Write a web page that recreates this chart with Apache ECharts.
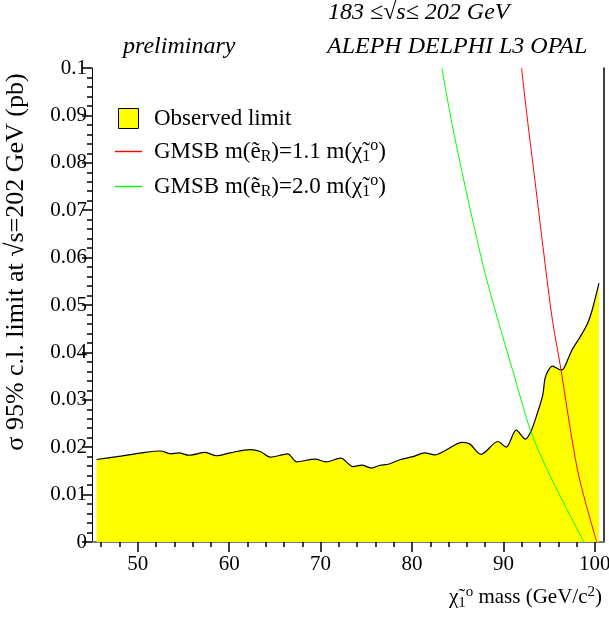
<!DOCTYPE html>
<html>
<head>
<meta charset="utf-8">
<script src="https://cdn.jsdelivr.net/npm/echarts@6/dist/echarts.min.js"></script>
<style>
  html, body { margin: 0; padding: 0; background: #fff; }
  #chart { width: 609px; height: 621px; }
</style>
</head>
<body>
<div id="chart"></div>
<script>
// observed 95% c.l. limit (pb) vs neutralino mass (GeV/c^2)
const obsMass = [45.5, 47.75, 50.5, 52.5, 53.6, 54.5, 55.6, 57.4, 58.6, 60.1, 62.3, 63.4, 64.5, 66.4, 67.4, 69.4,
  70.6, 72.2, 73.55, 74.5, 75.55, 76.5, 77.4, 78.6, 80.1, 81.4, 82.5, 83.55, 85.5, 86.3, 87.55, 89.4, 90.3,
  91.4, 92.4, 93.0, 93.7, 94.3, 94.55, 94.85, 95.36, 96.3, 96.6, 97.5, 98.4, 99.2, 99.7, 100.45];
const obsLimit = [0.0174, 0.0180, 0.0188, 0.0192, 0.0186, 0.0188, 0.0183, 0.0189, 0.0182, 0.0188, 0.0195, 0.0191,
  0.0179, 0.0186, 0.0169, 0.0175, 0.0169, 0.0177, 0.0159, 0.0162, 0.0156, 0.0162, 0.0164, 0.0173, 0.0180,
  0.0188, 0.0184, 0.0192, 0.0210, 0.0207, 0.0185, 0.0212, 0.0200, 0.0236, 0.0217, 0.0233, 0.0271, 0.0310,
  0.0345, 0.0360, 0.0371, 0.0363, 0.0366, 0.0405, 0.0433, 0.0461, 0.0489, 0.0546];

// GMSB m(eR) = 1.1 m(chi)
const redMass = [91.98, 92.57, 93.4, 94.64, 95.36, 96.3, 97.2, 98.1, 99.0, 100.2];
const redXsec = [0.100, 0.090, 0.077, 0.0574, 0.0468, 0.0363, 0.0252, 0.0152, 0.0082, 0.0];

// GMSB m(eR) = 2.0 m(chi)
const greenMass = [83.26, 84.2, 85.2, 86.5, 87.9, 89.4, 91.0, 93.0, 94.8, 96.6, 98.8];
const greenXsec = [0.100, 0.090, 0.0805, 0.069, 0.0574, 0.0468, 0.0363, 0.0233, 0.0152, 0.0082, 0.0];

const xMajor = [50, 60, 70, 80, 90, 100];
const xMinor = [46, 48, 52, 54, 56, 58, 62, 64, 66, 68, 72, 74, 76, 78, 82, 84, 86, 88, 92, 94, 96, 98];

const serif = '"Liberation Serif", "DejaVu Serif", serif';
const zip = (xs, ys) => xs.map((x, i) => [x, ys[i]]);

const legendText = {
  obs: '{t|Observed limit}',
  r11: '{t|GMSB m(e\u0303}{sub|R}{t|)=1.1 m(\u03c7\u0303}{sub|1}{sup|o}{t|)}',
  r20: '{t|GMSB m(e\u0303}{sub|R}{t|)=2.0 m(\u03c7\u0303}{sub|1}{sup|o}{t|)}'
};

// rich styles for sub/superscripts
const richText = (size, small) => ({
  t: {fontFamily: serif, fontSize: size, color: '#000', lineHeight: size + 2},
  sub: {fontFamily: serif, fontSize: small, color: '#000', lineHeight: small, padding: [11, 0, 0, 0]},
  sup: {fontFamily: serif, fontSize: small, color: '#000', lineHeight: small, padding: [0, 0, 11, 0]}
});

const lineIcon = 'path://M0,0H26V1.4H0Z';

const chart = echarts.init(document.getElementById('chart'));

chart.setOption({
  animation: false,
  backgroundColor: '#fff',
  title: [
    {text: '183 \u2264\u221as\u2264 202 GeV', left: 328, top: 1},
    {text: 'preliminary', left: 123, top: 35},
    {text: 'ALEPH DELPHI L3 OPAL', left: 327, top: 35}
  ].map(t => Object.assign(t, {
    padding: 0,
    textStyle: {fontFamily: serif, fontStyle: 'italic', fontWeight: 'normal', fontSize: 24, color: '#000'}
  })),
  grid: {left: 92, right: 5, top: 68, bottom: 79, outerBoundsMode: 'none', containLabel: false},
  legend: {
    orient: 'vertical',
    left: 110,
    top: 102,
    itemWidth: 27,
    itemHeight: 20,
    itemGap: 8,
    symbolKeepAspect: true,
    selectedMode: false,
    data: [
      {name: 'obs', icon: 'path://M0,0H10V10H0Z', itemStyle: {color: '#ffff00', borderColor: '#000', borderWidth: 1}},
      {name: 'r11', icon: lineIcon, itemStyle: {color: '#ff0000', borderColor: '#ff0000', borderWidth: 0}},
      {name: 'r20', icon: lineIcon, itemStyle: {color: '#00ff00', borderColor: '#00ff00', borderWidth: 0}}
    ],
    formatter: name => legendText[name],
    textStyle: {padding: [0, 0, 0, 7], rich: richText(23, 16)}
  },
  xAxis: [
    {
      type: 'value', min: 45, max: 101, position: 'bottom',
      axisLine: {show: true, onZero: false, lineStyle: {color: '#000', width: 1}},
      axisTick: {show: true, customValues: xMajor, length: 10, lineStyle: {color: '#000', width: 1.5}},
      axisLabel: {customValues: xMajor, fontFamily: serif, fontSize: 21, color: '#000', margin: 12},
      splitLine: {show: false},
      name: '{t|\u03c7\u0303}{sub|1}{sup|o}{t| mass (GeV/c}{sup|2}{t|)}',
      nameLocation: 'end',
      nameGap: -2,
      nameTextStyle: {align: 'right', verticalAlign: 'top', padding: [44, 0, 0, 0], rich: richText(21, 15)}
    },
    {
      type: 'value', min: 45, max: 101, position: 'bottom',
      axisLine: {show: false},
      axisTick: {show: true, customValues: xMinor, length: 5, lineStyle: {color: '#000', width: 1.5}},
      axisLabel: {show: false},
      splitLine: {show: false}
    },
    {
      type: 'value', min: 45, max: 101, position: 'top',
      axisLine: {show: true, lineStyle: {color: '#777', width: 2}},
      axisTick: {show: false},
      axisLabel: {show: false},
      splitLine: {show: false}
    }
  ],
  yAxis: [
    {
      type: 'value', min: 0, max: 0.1, interval: 0.01, position: 'left',
      axisLine: {show: true, lineStyle: {color: '#000', width: 1}},
      axisTick: {show: true, length: 10, lineStyle: {color: '#000', width: 1.5}},
      minorTick: {show: true, splitNumber: 5, length: 5, lineStyle: {color: '#000', width: 1.5}},
      axisLabel: {fontFamily: serif, fontSize: 21, color: '#000', margin: 5},
      splitLine: {show: false},
      minorSplitLine: {show: false},
      name: '\u03c3 95% c.l. limit at \u221as=202 GeV (pb)',
      nameLocation: 'middle',
      nameRotate: 90,
      nameGap: 63,
      nameTextStyle: {fontFamily: serif, fontSize: 26, color: '#000', padding: [0, 0, 0, 86]}
    },
    {
      type: 'value', min: 0, max: 0.1, position: 'right',
      axisLine: {show: true, lineStyle: {color: '#000', width: 1.5}},
      axisTick: {show: false},
      axisLabel: {show: false},
      splitLine: {show: false}
    }
  ],
  series: [
    {
      name: 'obs', type: 'line', data: zip(obsMass, obsLimit),
      smooth: 0.3, symbol: 'none', z: 1,
      lineStyle: {color: '#000', width: 1.2},
      itemStyle: {color: '#ffff00'},
      areaStyle: {color: '#ffff00', opacity: 1}
    },
    {
      name: 'r11', type: 'line', data: zip(redMass, redXsec),
      smooth: 0.3, symbol: 'none', z: 3,
      lineStyle: {color: '#ff0000', width: 1},
      itemStyle: {color: '#ff0000'}
    },
    {
      name: 'r20', type: 'line', data: zip(greenMass, greenXsec),
      smooth: 0.3, symbol: 'none', z: 3,
      lineStyle: {color: '#00ff00', width: 1},
      itemStyle: {color: '#00ff00'}
    }
  ]
});
</script>
</body>
</html>
